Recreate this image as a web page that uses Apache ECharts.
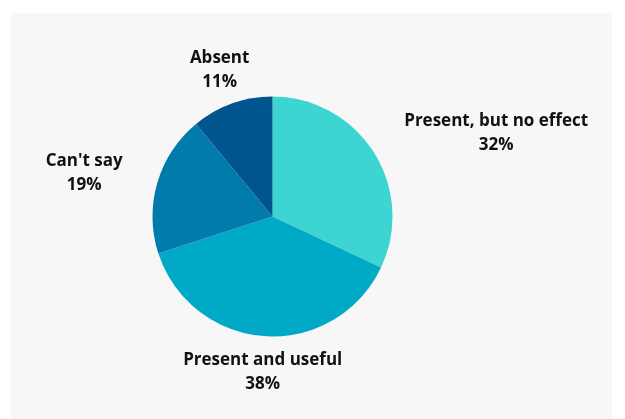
<!DOCTYPE html>
<html>
<head>
<meta charset="utf-8">
<script src="https://cdn.jsdelivr.net/npm/echarts@6/dist/echarts.min.js"></script>
<style>
html,body{margin:0;padding:0;background:#ffffff;}
#bg{position:absolute;left:11px;top:13px;width:601px;height:406px;background:#f7f7f7;}
#chart{position:absolute;left:0;top:0;width:625px;height:419px;}
</style>
</head>
<body>
<div id="bg"></div>
<div id="chart"></div>
<script>
const categories = ["Present, but no effect", "Present and useful", "Can't say", "Absent"];
const values = [32, 38, 19, 11];
const colors = ["#3cd5d2", "#00aac6", "#007bab", "#01558f"];

const total = values.reduce((a, b) => a + b, 0);
function midAngle(i) {
  let before = 0;
  for (let k = 0; k < i; k++) before += values[k];
  return ((before + values[i] / 2) / total) * 2 * Math.PI;
}

const chart = echarts.init(document.getElementById('chart'), null, {renderer: 'canvas'});
chart.setOption({
  backgroundColor: 'transparent',
  animation: false,
  series: [{
    type: 'pie',
    center: [272.5, 216.5],
    radius: 120,
    startAngle: 90,
    clockwise: true,
    avoidLabelOverlap: false,
    color: colors,
    data: categories.map((c, i) => ({name: c, value: values[i]})),
    itemStyle: {borderWidth: 0},
    label: {
      show: true,
      position: 'outside',
      distanceToLabelLine: 0,
      formatter: '{a|{b}}\n{a|{d}%}',
      rich: {
        a: {
          align: 'center',
          fontFamily: 'Open Sans',
          fontWeight: 'bold',
          fontSize: 17,
          lineHeight: 24,
          color: '#111111'
        }
      }
    },
    labelLine: {show: false, length: 36, length2: 0},
    labelLayout: function (params) {
      const a = midAngle(params.dataIndex);
      if (Math.abs(Math.sin(a)) < 0.5) {
        return {align: 'center'};
      }
      return {};
    },
    emphasis: {disabled: true}
  }]
});
</script>
</body>
</html>
